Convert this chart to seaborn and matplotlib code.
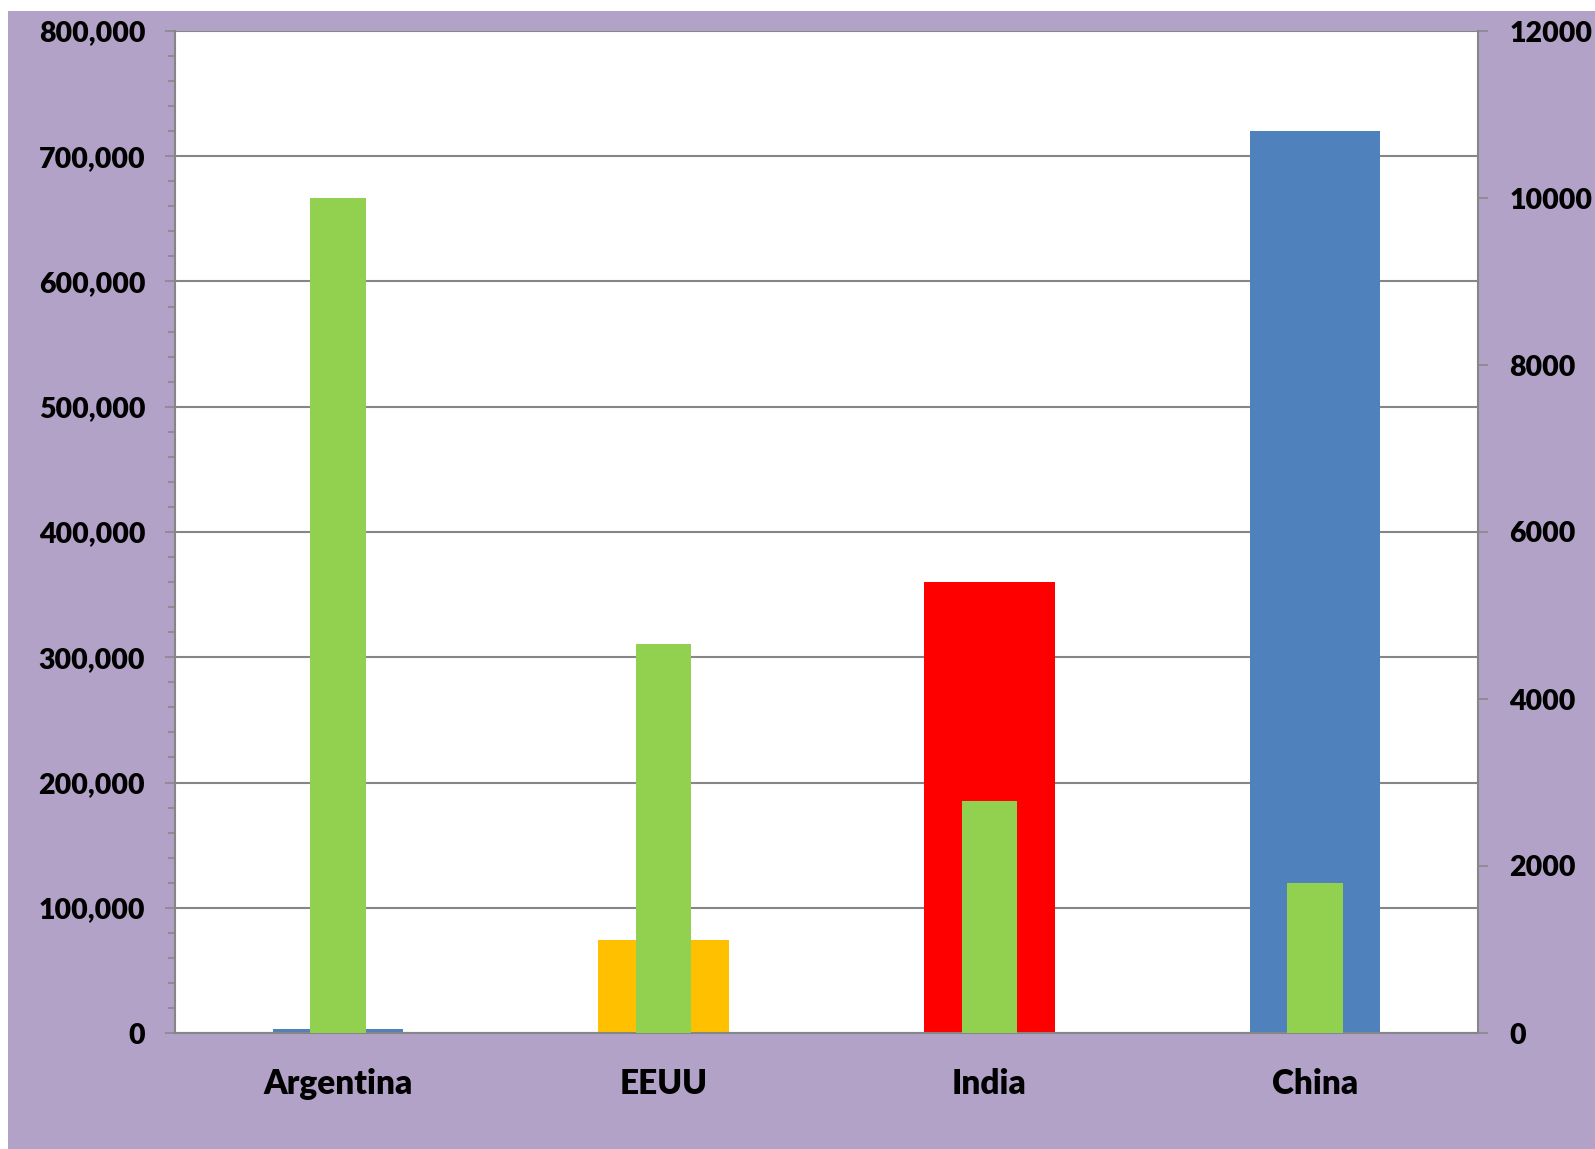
# Bar chart with two y axes (countries)
import pandas as pd
import matplotlib
matplotlib.use("Agg")
import matplotlib.pyplot as plt
import seaborn as sns
from matplotlib.patches import Rectangle
from matplotlib.ticker import MultipleLocator, FuncFormatter

# Data
countries = ["Argentina", "EEUU", "India", "China"]
left_values = [3500, 74000, 360000, 720000]       # wide bars, left axis
left_colors = ["#4F81BD", "#FFC000", "#FF0000", "#4F81BD"]
right_values = [10000, 4660, 2780, 1800]          # narrow green bars, right axis
right_color = "#92D050"

df = pd.DataFrame({"country": countries, "left": left_values, "right": right_values})

sns.set_style("white")
plt.rcParams['font.family'] = ['Lato', 'DejaVu Sans']
plt.rcParams['font.weight'] = 'heavy'

W, H = 1595, 1149
grey = "#868686"

fig = plt.figure(figsize=(W / 100, H / 100), dpi=100)
fig.patch.set_facecolor("white")
fig.patches.append(Rectangle((8 / W, 0), 1, (H - 11) / H, transform=fig.transFigure,
                             facecolor="#B2A2C7", edgecolor="none", zorder=-10))

ax = fig.add_axes([175 / W, (H - 1033) / H, (1478 - 175) / W, (1033 - 31) / H])
ax.set_facecolor("white")
sns.barplot(data=df, x="country", y="left", hue="country", palette=left_colors,
            width=0.4, linewidth=0, saturation=1, legend=False, ax=ax)

ax.set_xlim(-0.5, 3.5)
ax.set_ylim(0, 800000)
ax.yaxis.set_major_locator(MultipleLocator(100000))
ax.yaxis.set_minor_locator(MultipleLocator(20000))
ax.yaxis.set_major_formatter(FuncFormatter(lambda v, p: f"{v:,.0f}"))
ax.grid(axis="y", which="major", color=grey, lw=1.5)
ax.set_axisbelow(True)
ax.set_xlabel("")
ax.set_ylabel("")

for s in ["top", "right"]:
    ax.spines[s].set_visible(False)
for s in ["left", "bottom"]:
    ax.spines[s].set_color(grey)
    ax.spines[s].set_linewidth(1.5)

ax.set_xticks(range(len(countries)))
ax.set_xticklabels(countries)
ax.set_xticks([-0.5, 0.5, 1.5, 2.5, 3.5], minor=True)
ax.tick_params(axis="x", which="major", length=0, pad=25, labelsize=24, labelcolor="black")
ax.tick_params(axis="x", which="minor", length=7.5, width=1.1, color=grey, direction="out")
ax.tick_params(axis="y", which="major", length=7.5, width=1.1, color=grey, pad=14,
               labelsize=20.5, labelcolor="black")
ax.tick_params(axis="y", which="minor", length=5, width=1.1, color=grey)

ax2 = ax.twinx()
sns.barplot(data=df, x="country", y="right", color=right_color, width=0.17,
            linewidth=0, saturation=1, ax=ax2)
ax2.set_xlim(-0.5, 3.5)
ax2.set_ylim(0, 12000)
ax2.yaxis.set_major_locator(MultipleLocator(2000))
ax2.set_ylabel("")
ax2.set_xlabel("")
for s in ["top", "left", "bottom"]:
    ax2.spines[s].set_visible(False)
ax2.spines["right"].set_color(grey)
ax2.spines["right"].set_linewidth(1.5)
ax2.tick_params(axis="y", which="major", length=7.5, width=1.1, color=grey, pad=15,
                labelsize=20.5, labelcolor="black")

fig.savefig("out.png", dpi=100)
